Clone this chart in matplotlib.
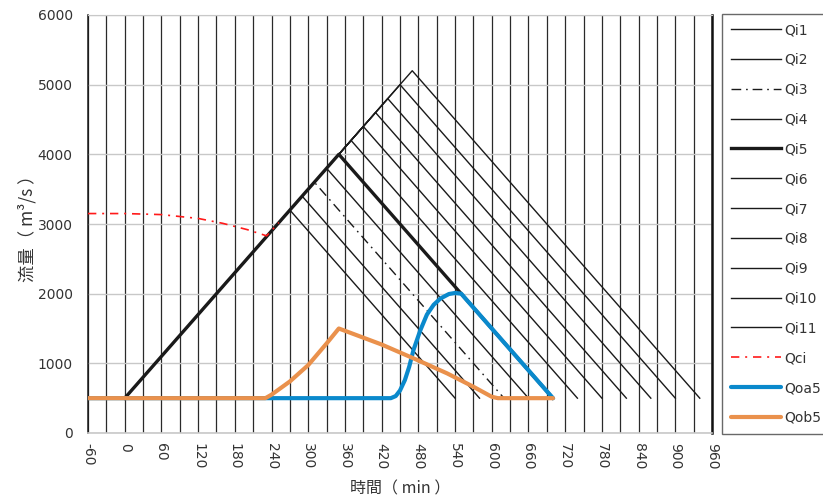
import numpy as np
import matplotlib.pyplot as plt
from matplotlib.ticker import MultipleLocator

plt.rcParams['font.family'] = ['DejaVu Sans']
plt.rcParams['axes.unicode_minus'] = False

# ---- data ----
base_flow = 500
qi_start = 0
qi_peak_time = [270, 290, 310, 330, 350, 370, 390, 410, 430, 450, 470]
qi_peak_flow = [3200, 3400, 3600, 3800, 4000, 4200, 4400, 4600, 4800, 5000, 5200]
qi_end_time = [540, 580, 620, 660, 700, 740, 780, 820, 860, 900, 940]

qci_t = [-60, 0, 60, 120, 160, 200, 232, 252]
qci_q = [3150, 3150, 3135, 3080, 3010, 2920, 2830, 3020]

qoa5_t = [-60, 240, 435, 443, 450, 458, 465, 472, 483, 494, 505, 516, 530, 540, 550, 700]
qoa5_q = [500, 500, 500, 530, 610, 760, 950, 1190, 1470, 1700, 1840, 1930, 1995, 2010, 2000, 500]

qob5_t = [-60, 230, 240, 270, 300, 330, 350, 420, 472, 527, 570, 600, 610, 700]
qob5_q = [500, 500, 550, 740, 975, 1285, 1500, 1270, 1072, 856, 664, 520, 500, 500]

W, H = 823, 504
fig = plt.figure(figsize=(W / 100, H / 100), dpi=100)
ax = fig.add_axes([88 / W, 1 - 433 / H, (712 - 88) / W, (433 - 15) / H])

# inflow hydrographs
for i in range(len(qi_peak_time)):
    t = [qi_start, qi_peak_time[i], qi_end_time[i]]
    q = [base_flow, qi_peak_flow[i], base_flow]
    name = 'Qi%d' % (i + 1)
    if i == 2:
        ax.plot(t, q, color='#1a1a1a', lw=1.0, dashes=(7, 3.5, 1.2, 3.5), label=name, zorder=3)
    elif i == 4:
        ax.plot(t, q, color='#1a1a1a', lw=2.4, label=name, zorder=4)
    else:
        ax.plot(t, q, color='#1a1a1a', lw=1.0, label=name, zorder=3)

ax.plot(qci_t, qci_q, color='#ff1a1a', lw=1.2, dashes=(5, 3.5, 1.2, 3.5), label='Qci', zorder=5)
ax.plot(qoa5_t, qoa5_q, color='#0a89cc', lw=3.0, label='Qoa5', zorder=6,
        solid_capstyle='round', solid_joinstyle='round')
ax.plot(qob5_t, qob5_q, color='#ea914c', lw=3.0, label='Qob5', zorder=7,
        solid_capstyle='round', solid_joinstyle='round')

ax.set_xlim(-60, 960)
ax.set_ylim(0, 6000)
ax.set_xticks(np.arange(-60, 961, 60))
ax.xaxis.set_minor_locator(MultipleLocator(30))
ax.set_yticks(np.arange(0, 6001, 1000))
ax.grid(axis='x', which='both', color='#2a2a2a', lw=0.9)
ax.grid(axis='y', which='major', color='#c8c8c8', lw=1.0)
ax.set_axisbelow(True)

ax.tick_params(axis='both', which='both', length=0, colors='#333333', labelsize=10)
ax.tick_params(axis='y', pad=11)
ax.tick_params(axis='x', pad=7, labelrotation=270)
for lbl in ax.get_xticklabels():
    lbl.set_va('top')
    lbl.set_ha('center')

ax.spines['left'].set_color('#1a1a1a')
ax.spines['left'].set_linewidth(1.1)
ax.spines['right'].set_color('#111111')
ax.spines['right'].set_linewidth(1.8)
ax.spines['top'].set_color('#c8c8c8')
ax.spines['bottom'].set_color('#c8c8c8')
ax.spines['bottom'].set_linewidth(1.2)

cjk = ['Noto Sans CJK TC', 'DejaVu Sans']
ax.set_xlabel('時間（ min ）', family=cjk, fontsize=11.5, color='#333333', labelpad=8)
ax.set_ylabel('流量（ m³/s ）', family=cjk, fontsize=12.5, color='#333333', labelpad=1)

leg = fig.legend(loc='upper left', bbox_to_anchor=(722 / W, 1 - 14 / H),
                 frameon=True, fancybox=False, edgecolor='#444444',
                 fontsize=10, handlelength=3.6, handletextpad=0.25,
                 labelspacing=1.14, borderpad=0.65, borderaxespad=0)
leg.get_frame().set_linewidth(1.0)
for txt in leg.get_texts():
    txt.set_color('#333333')

fig.savefig('out.png', dpi=100)
